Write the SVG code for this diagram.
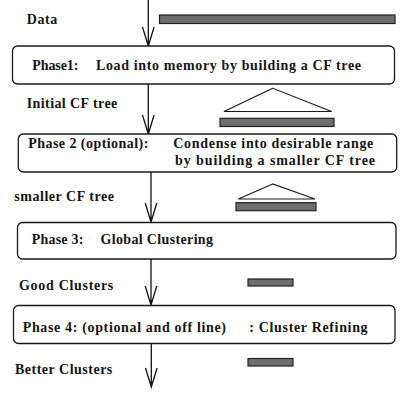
<svg xmlns="http://www.w3.org/2000/svg" width="405" height="411" viewBox="0 0 405 411">
<style>
.box{fill:#fff;stroke:#1a1a1a;stroke-width:1.3}
.bar{fill:#6e6e6e;stroke:#222;stroke-width:1.2}
.tri{fill:#fff;stroke:#1a1a1a;stroke-width:1.2}
.t{font-family:'Liberation Serif','DejaVu Serif',serif;font-weight:700;font-size:14px;fill:#151515}
.edge{stroke:#111;stroke-width:1.3;fill:none}
</style>
<rect width="405" height="411" fill="#fff"/>
<g id="connectors">
<path class="edge" d="M148.3,0V46M142.5,27L148.3,46L154.1,27"/>
<path class="edge" d="M148.3,84V134M142.5,115L148.3,134L154.1,115"/>
<path class="edge" d="M151,172V222M145.2,203L151,222L156.8,203"/>
<path class="edge" d="M151,259V305M145.2,286L151,305L156.8,286"/>
<path class="edge" d="M151.3,343.5V387M145.5,368L151.3,387L157.1,368"/>
</g>
<g id="data">
<text class="t" x="26.7" y="24" textLength="30.6">Data</text>
<rect class="bar" x="159.5" y="15" width="235.5" height="8.5"/>
</g>
<g id="phase1">
<rect class="box" x="12.5" y="46" width="382" height="38" rx="5"/>
<text class="t" x="32.3" y="69.5" textLength="46">Phase1:</text>
<text class="t" x="96" y="69.5" textLength="265">Load into memory by building a CF tree</text>
</g>
<g id="initial-cf-tree">
<text class="t" x="26.7" y="108" textLength="90.6">Initial CF tree</text>
<polygon class="tri" points="272.7,88.3 224,111.5 331.7,111.5"/>
<rect class="bar" x="220" y="118.3" width="114" height="8.2"/>
</g>
<g id="phase2">
<rect class="box" x="18.3" y="134" width="378.4" height="38" rx="5"/>
<text class="t" x="28.3" y="148" textLength="120">Phase 2 (optional):</text>
<text class="t" x="173.3" y="148" textLength="200">Condense into desirable range</text>
<text class="t" x="175" y="165" textLength="200">by building a smaller CF tree</text>
</g>
<g id="smaller-cf-tree">
<text class="t" x="14.3" y="200.5" textLength="99.7">smaller CF tree</text>
<polygon class="tri" points="272.7,184 238.3,199 315,199"/>
<rect class="bar" x="236" y="202.7" width="80" height="8"/>
</g>
<g id="phase3">
<rect class="box" x="17.5" y="222.5" width="378.5" height="36.5" rx="5"/>
<text class="t" x="31.7" y="244" textLength="51.6">Phase 3:</text>
<text class="t" x="100.5" y="244" textLength="112.5">Global Clustering</text>
</g>
<g id="good-clusters">
<text class="t" x="19" y="289.5" textLength="94.3">Good Clusters</text>
<rect class="bar" x="248" y="279" width="45" height="7"/>
</g>
<g id="phase4">
<rect class="box" x="13.5" y="305.5" width="381.5" height="38" rx="5"/>
<text class="t" x="22.7" y="331.5" textLength="203.3">Phase 4: (optional and off line)</text>
<text class="t" x="249.3" y="331.5" textLength="118.3">: Cluster Refining</text>
</g>
<g id="better-clusters">
<text class="t" x="15" y="374" textLength="97.3">Better Clusters</text>
<rect class="bar" x="248" y="358.5" width="45" height="7.5"/>
</g>
</svg>
